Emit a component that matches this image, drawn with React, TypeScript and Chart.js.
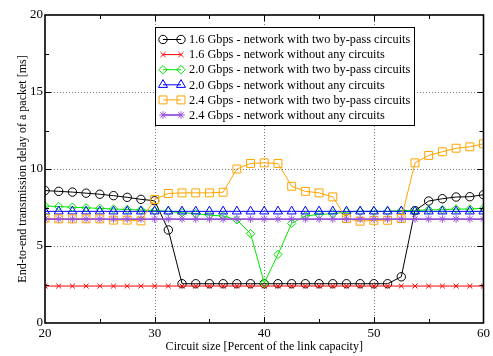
import React, { useEffect, useRef } from 'react';
import { Chart, registerables } from 'chart.js';

Chart.register(...registerables);

const FONT = "'Liberation Serif', 'DejaVu Serif', serif";

// Circuit size [% of link capacity]
const circuitSize = [
  20, 21.25, 22.5, 23.75, 25, 26.25, 27.5, 28.75, 30, 31.25, 32.5, 33.75, 35, 36.25, 37.5, 38.75,
  40, 41.25, 42.5, 43.75, 45, 46.25, 47.5, 48.75, 50, 51.25, 52.5, 53.75, 55, 56.25, 57.5, 58.75, 60,
];

const delay16Bypass = [
  8.6, 8.55, 8.5, 8.43, 8.36, 8.27, 8.16, 8.03, 7.94, 6.04, 2.55, 2.55, 2.55, 2.55, 2.55, 2.55,
  2.55, 2.55, 2.55, 2.55, 2.55, 2.55, 2.55, 2.55, 2.55, 2.55, 3.0, 7.3, 7.92, 8.07, 8.18, 8.2, 8.33,
];
const delay16None = [
  2.4, 2.4, 2.4, 2.4, 2.4, 2.4, 2.4, 2.4, 2.4, 2.4, 2.4, 2.4, 2.4, 2.4, 2.4, 2.4,
  2.4, 2.4, 2.4, 2.4, 2.4, 2.4, 2.4, 2.4, 2.4, 2.4, 2.4, 2.4, 2.4, 2.4, 2.4, 2.4, 2.4,
];
const delay20Bypass = [
  7.6, 7.56, 7.52, 7.48, 7.44, 7.4, 7.37, 7.34, 7.3, 7.25, 7.16, 7.1, 7.0, 6.95, 6.7, 5.8,
  2.6, 4.45, 6.47, 6.95, 7.05, 7.1, 7.2, 7.25, 7.25, 7.25, 7.3, 7.3, 7.35, 7.35, 7.4, 7.4, 7.45,
];
const delay20None = [
  7.25, 7.25, 7.25, 7.25, 7.25, 7.25, 7.25, 7.25, 7.25, 7.25, 7.25, 7.25, 7.25, 7.25, 7.25, 7.25,
  7.25, 7.25, 7.25, 7.25, 7.25, 7.25, 7.25, 7.25, 7.25, 7.25, 7.25, 7.25, 7.25, 7.25, 7.25, 7.25, 7.25,
];
const delay24Bypass = [
  6.8, 6.76, 6.76, 6.76, 6.76, 6.68, 6.68, 6.63, 8.02, 8.41, 8.45, 8.45, 8.45, 8.49, 10.0, 10.36,
  10.4, 10.36, 8.88, 8.55, 8.45, 8.19, 6.78, 6.61, 6.67, 6.67, 6.78, 10.4, 10.88, 11.12, 11.35, 11.44, 11.64,
];
const delay24None = [
  6.75, 6.75, 6.75, 6.75, 6.75, 6.75, 6.75, 6.75, 6.75, 6.75, 6.75, 6.75, 6.75, 6.75, 6.75, 6.75,
  6.75, 6.75, 6.75, 6.75, 6.75, 6.75, 6.75, 6.75, 6.75, 6.75, 6.75, 6.75, 6.75, 6.75, 6.75, 6.75, 6.75,
];

const seriesLabels = [
  '1.6 Gbps - network with two by-pass circuits',
  '1.6 Gbps - network without any circuits',
  '2.0 Gbps - network with two by-pass circuits',
  '2.0 Gbps - network without any circuits',
  '2.4 Gbps - network with two by-pass circuits',
  '2.4 Gbps - network without any circuits',
];
const seriesValues = [delay16Bypass, delay16None, delay20Bypass, delay20None, delay24Bypass, delay24None];
const seriesColors = ['#000000', '#ff0000', '#00e600', '#0000ff', '#ffa500', '#9955dd'];
const seriesMarkers = ['circle', 'crossRot', 'rectRot', 'triangle', 'rect', 'star'];
const seriesMarkerRadius = [4.2, 3.5, 4.2, 5.2, 5.6, 3.8];
const seriesLineWidth = [1, 1, 1, 1, 1, 1.8];

const xGridValues = [30, 40, 50];
const yGridValues = [5, 10, 15];
const xMajorTicks = [30, 40, 50];
const xMinorTicks = [25, 35, 45, 55];
const yMajorTicks = [5, 10, 15];
const yMinorTicks = [2.5, 7.5, 12.5, 17.5];

const xTitle = 'Circuit size [Percent of the link capacity]';
const yTitle = 'End-to-end transmission delay of a packet [ms]';

function drawMarker(ctx: CanvasRenderingContext2D, style: string, x: number, y: number, r: number) {
  ctx.beginPath();
  const d = Math.SQRT1_2 * r;
  switch (style) {
    case 'circle':
      ctx.arc(x, y, r, 0, Math.PI * 2);
      break;
    case 'crossRot':
      ctx.moveTo(x - d, y - d); ctx.lineTo(x + d, y + d);
      ctx.moveTo(x - d, y + d); ctx.lineTo(x + d, y - d);
      break;
    case 'rectRot':
      ctx.moveTo(x, y - r); ctx.lineTo(x + r, y); ctx.lineTo(x, y + r); ctx.lineTo(x - r, y); ctx.closePath();
      break;
    case 'triangle': {
      const a = (2 * Math.PI) / 3;
      ctx.moveTo(x, y - r);
      ctx.lineTo(x + Math.sin(a) * r, y - Math.cos(a) * r);
      ctx.lineTo(x + Math.sin(2 * a) * r, y - Math.cos(2 * a) * r);
      ctx.closePath();
      break;
    }
    case 'rect':
      ctx.rect(x - d, y - d, 2 * d, 2 * d);
      break;
    case 'star':
      ctx.moveTo(x - r, y); ctx.lineTo(x + r, y);
      ctx.moveTo(x, y - r); ctx.lineTo(x, y + r);
      ctx.moveTo(x - d, y - d); ctx.lineTo(x + d, y + d);
      ctx.moveTo(x - d, y + d); ctx.lineTo(x + d, y - d);
      break;
  }
  ctx.stroke();
}

const framePlugin = {
  id: 'gnuFrame',
  beforeDatasetsDraw(chart: any) {
    const { ctx, chartArea: a, scales } = chart;
    const xs = scales.x, ys = scales.y;
    ctx.save();
    ctx.strokeStyle = '#777';
    ctx.lineWidth = 1;
    ctx.setLineDash([1, 2]);
    for (const v of xGridValues) {
      const px = Math.round(xs.getPixelForValue(v)) + 0.5;
      ctx.beginPath(); ctx.moveTo(px, a.top); ctx.lineTo(px, a.bottom); ctx.stroke();
    }
    for (const v of yGridValues) {
      const py = Math.round(ys.getPixelForValue(v)) + 0.5;
      ctx.beginPath(); ctx.moveTo(a.left, py); ctx.lineTo(a.right, py); ctx.stroke();
    }
    ctx.restore();
  },
  afterDatasetsDraw(chart: any) {
    const { ctx, chartArea: a, scales } = chart;
    const xs = scales.x, ys = scales.y;
    ctx.save();
    ctx.setLineDash([]);
    ctx.strokeStyle = '#000';
    ctx.lineWidth = 1;
    const tickX = (vals: number[], len: number) => {
      for (const v of vals) {
        const px = Math.round(xs.getPixelForValue(v)) + 0.5;
        ctx.beginPath();
        ctx.moveTo(px, a.bottom); ctx.lineTo(px, a.bottom - len);
        ctx.moveTo(px, a.top); ctx.lineTo(px, a.top + len);
        ctx.stroke();
      }
    };
    const tickY = (vals: number[], len: number) => {
      for (const v of vals) {
        const py = Math.round(ys.getPixelForValue(v)) + 0.5;
        ctx.beginPath();
        ctx.moveTo(a.left, py); ctx.lineTo(a.left + len, py);
        ctx.moveTo(a.right, py); ctx.lineTo(a.right - len, py);
        ctx.stroke();
      }
    };
    tickX(xMajorTicks, 6);
    tickX(xMinorTicks, 4);
    tickY(yMajorTicks, 6);
    tickY(yMinorTicks, 4);
    ctx.lineWidth = 1.6;
    ctx.strokeRect(a.left, a.top, a.right - a.left, a.bottom - a.top);
    ctx.restore();
  },
  afterDraw(chart: any) {
    const { ctx } = chart;
    ctx.save();
    // legend box
    const bx = 155.5, by = 27.5, bw = 259, bh = 98;
    ctx.fillStyle = '#fff';
    ctx.fillRect(bx, by, bw, bh);
    ctx.strokeStyle = '#000';
    ctx.lineWidth = 1;
    ctx.setLineDash([]);
    ctx.strokeRect(bx, by, bw, bh);
    ctx.font = `12.3px ${FONT}`;
    ctx.textBaseline = 'middle';
    ctx.textAlign = 'left';
    for (let i = 0; i < seriesLabels.length; i++) {
      const ry = 39.5 + i * 15.1;
      ctx.strokeStyle = seriesColors[i];
      ctx.lineWidth = seriesLineWidth[i];
      ctx.beginPath(); ctx.moveTo(163, ry); ctx.lineTo(181, ry); ctx.stroke();
      ctx.lineWidth = 1;
      drawMarker(ctx, seriesMarkers[i], 163, ry, seriesMarkerRadius[i]);
      drawMarker(ctx, seriesMarkers[i], 181, ry, seriesMarkerRadius[i]);
      ctx.fillStyle = '#000';
      ctx.fillText(seriesLabels[i], 189, ry + 0.5);
    }
    ctx.restore();
  },
};

export default function App() {
  const canvasRef = useRef<HTMLCanvasElement | null>(null);

  useEffect(() => {
    if (!canvasRef.current) return;
    const datasets = seriesLabels.map((label, i) => ({
      label,
      data: circuitSize.map((x, k) => ({ x, y: seriesValues[i][k] })),
      borderColor: seriesColors[i],
      backgroundColor: 'transparent',
      borderWidth: seriesLineWidth[i],
      pointStyle: seriesMarkers[i],
      pointRadius: seriesMarkerRadius[i],
      pointBorderWidth: 1,
      pointBorderColor: seriesColors[i],
      pointBackgroundColor: 'transparent',
      tension: 0,
      fill: false,
      order: seriesLabels.length - 1 - i,
    }));
    const chart = new Chart(canvasRef.current, {
      type: 'line',
      data: { datasets },
      plugins: [framePlugin],
      options: {
        animation: false,
        responsive: false,
        maintainAspectRatio: false,
        layout: { padding: { top: 15, right: 8, left: 0, bottom: 0 } },
        plugins: { legend: { display: false }, tooltip: { enabled: false } },
        scales: {
          x: {
            type: 'linear',
            min: 20,
            max: 60,
            ticks: { stepSize: 10, color: '#000', font: { family: FONT, size: 13 }, padding: 3, maxRotation: 0, autoSkip: false },
            grid: { display: false, drawTicks: false },
            border: { display: false },
            title: { display: true, text: xTitle, color: '#000', font: { family: FONT, size: 12 }, padding: { top: 0, bottom: 2 } },
            afterFit: (s: any) => { s.height = 33; },
          },
          y: {
            type: 'linear',
            min: 0,
            max: 20,
            ticks: { stepSize: 5, color: '#000', font: { family: FONT, size: 13 }, padding: 2 },
            grid: { display: false, drawTicks: false },
            border: { display: false },
            title: { display: true, text: yTitle, color: '#000', font: { family: FONT, size: 12 }, padding: { top: 16, bottom: 0 } },
            afterFit: (s: any) => { s.width = 45; },
          },
        },
      } as any,
    });
    return () => chart.destroy();
  }, []);

  return (
    <div style={{ position: 'absolute', left: 0, top: 0, width: 493, height: 356, background: '#fff' }}>
      <canvas ref={canvasRef} width={493} height={356} style={{ display: 'block' }} />
    </div>
  );
}
